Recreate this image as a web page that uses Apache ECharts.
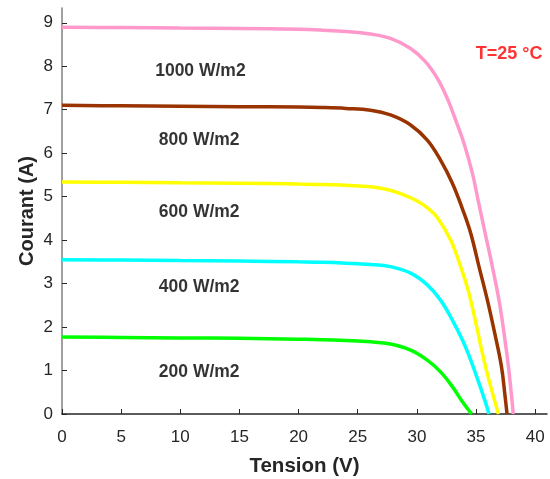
<!DOCTYPE html>
<html>
<head>
<meta charset="utf-8">
<script src="https://cdn.jsdelivr.net/npm/echarts@6/dist/echarts.min.js"></script>
<style>
html,body{margin:0;padding:0;background:#fff;}
#chart{width:550px;height:479px;}
</style>
</head>
<body>
<div id="chart"></div>
<script>
// Voltage (V) / current (A) readings for each irradiance curve
var v1000 = [0, 5, 10, 15, 20, 22, 24.0, 26.08, 27.77, 29.47, 30.74, 31.73, 32.57, 33.28, 33.98, 34.69, 35.25, 35.82, 36.38, 36.94, 37.37, 37.74, 38.0, 38.15];
var i1000 = [8.90, 8.89, 8.88, 8.87, 8.85, 8.83, 8.80, 8.74, 8.64, 8.41, 8.10, 7.72, 7.26, 6.76, 6.23, 5.54, 4.82, 4.10, 3.39, 2.62, 1.86, 1.09, 0.42, 0];

var v800 = [0, 5, 10, 15, 20, 22, 24.0, 26.08, 27.77, 29.47, 30.88, 32.0, 33.0, 33.85, 34.55, 35.25, 35.96, 36.58, 37.15, 37.45, 37.62];
var i800 = [7.10, 7.09, 7.08, 7.07, 7.06, 7.05, 7.03, 6.99, 6.88, 6.65, 6.30, 5.84, 5.31, 4.72, 4.16, 3.39, 2.62, 1.86, 1.09, 0.42, 0];

var v600 = [0, 5, 10, 15, 20, 22, 24.0, 26.08, 27.4, 28.62, 30.03, 31.0, 31.73, 32.85, 33.70, 34.40, 35.05, 35.67, 36.24, 36.9];
var i600 = [5.34, 5.33, 5.32, 5.31, 5.29, 5.28, 5.26, 5.23, 5.17, 5.07, 4.90, 4.72, 4.52, 4.00, 3.39, 2.78, 2.01, 1.24, 0.63, 0];

var v400 = [0, 5, 10, 15, 20, 22, 24.0, 26.08, 27.77, 29.47, 30.88, 32.0, 33.0, 33.85, 34.55, 35.25, 35.82, 36.1];
var i400 = [3.55, 3.54, 3.53, 3.52, 3.50, 3.49, 3.47, 3.44, 3.39, 3.24, 2.97, 2.62, 2.16, 1.70, 1.24, 0.71, 0.25, 0];

var v200 = [0, 5, 10, 15, 20, 22, 24.0, 26.08, 27.77, 29.47, 30.88, 32.0, 33.0, 33.85, 34.63];
var i200 = [1.77, 1.76, 1.75, 1.74, 1.72, 1.71, 1.69, 1.66, 1.61, 1.47, 1.24, 0.97, 0.63, 0.28, 0];

var seriesNames = ['1000 W/m2', '800 W/m2', '600 W/m2', '400 W/m2', '200 W/m2'];
var seriesColors = ['#FF99CC', '#993300', '#FFFF00', '#00FFFF', '#00FF00'];
var seriesV = [v1000, v800, v600, v400, v200];
var seriesI = [i1000, i800, i600, i400, i200];

// Annotation positions (in data units)
var labelV = [11.7, 11.6, 11.6, 11.6, 11.6];
var labelI = [7.89, 6.30, 4.65, 2.92, 0.97];
var tempText = 'T=25 °C';
var tempPos = [37.8, 8.28];

var xTicks = [0, 5, 10, 15, 20, 25, 30, 35, 40];
var yTicks = [0, 1, 2, 3, 4, 5, 6, 7, 8, 9];

var font = '"Liberation Sans", Arial, sans-serif';

var series = [];
for (var s = 0; s < seriesV.length; s++) {
  var d = [];
  for (var k = 0; k < seriesV[s].length; k++) d.push([seriesV[s][k], seriesI[s][k]]);
  series.push({
    type: 'line', name: seriesNames[s], data: d, showSymbol: false, smooth: 0.4,
    lineStyle: { color: seriesColors[s], width: 3.5 }, z: 3
  });
}
var ann = [];
for (var s2 = 0; s2 < labelV.length; s2++) {
  ann.push({ value: [labelV[s2], labelI[s2]], label: { formatter: seriesNames[s2] } });
}
series.push({
  type: 'scatter', data: ann, symbolSize: 0, silent: true, z: 5,
  label: { show: true, position: 'inside', color: '#000', fontFamily: font, fontWeight: 'bold', fontSize: 17.5 }
});
series.push({
  type: 'scatter', data: [{ value: tempPos, label: { formatter: tempText } }], symbolSize: 0, silent: true, z: 5,
  label: { show: true, position: 'inside', color: '#FF0000', fontFamily: font, fontWeight: 'bold', fontSize: 18 }
});

var chart = echarts.init(document.getElementById('chart'), null, { renderer: 'canvas' });
chart.setOption({
  animation: false,
  backgroundColor: '#fff',
  grid: { left: 62, right: 3, top: 8, bottom: 65, containLabel: false, outerBoundsMode: 'none' },
  xAxis: {
    type: 'value', min: 0, max: 41,
    name: 'Tension (V)', nameLocation: 'middle', nameGap: 42, nameMoveOverlap: false,
    nameTextStyle: { fontFamily: font, fontWeight: 'bold', fontSize: 20.5, color: '#262626' },
    axisLine: { show: true, onZero: false, lineStyle: { color: '#262626', width: 1.5 } },
    axisTick: { show: true, inside: true, length: 5, customValues: xTicks, lineStyle: { color: '#262626' } },
    axisLabel: { customValues: xTicks, margin: 15, fontFamily: font, fontSize: 17, color: '#262626' },
    splitLine: { show: false }
  },
  yAxis: {
    type: 'value', min: 0, max: 9.34,
    name: 'Courant (A)', nameLocation: 'middle', nameGap: 25, nameRotate: 90, nameMoveOverlap: false,
    nameTextStyle: { fontFamily: font, fontWeight: 'bold', fontSize: 20, color: '#262626' },
    axisLine: { show: true, onZero: false, lineStyle: { color: '#808080', width: 1.5 } },
    axisTick: { show: true, inside: true, length: 5, customValues: yTicks, lineStyle: { color: '#262626' } },
    axisLabel: { customValues: yTicks, margin: 9, fontFamily: font, fontSize: 17, color: '#262626' },
    splitLine: { show: false }
  },
  series: series
});
</script>
</body>
</html>
